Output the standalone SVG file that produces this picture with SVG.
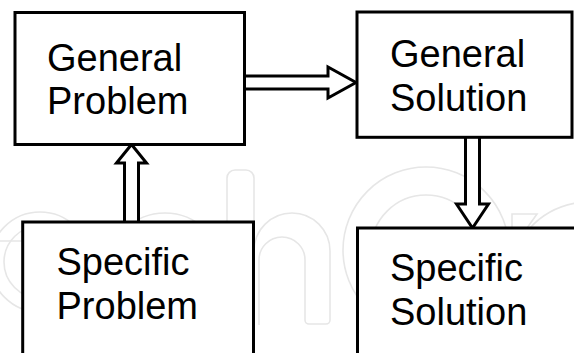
<svg xmlns="http://www.w3.org/2000/svg" width="574" height="353" viewBox="0 0 574 353">
<style>
.wm{fill:none;stroke:#e6e6e6;stroke-width:1.6}
.box{fill:#fff;stroke:#000;stroke-width:3}
.arr{fill:#fff;stroke:#000;stroke-width:3;stroke-linejoin:miter}
.t{font-family:"Liberation Sans",Arial,Helvetica,sans-serif;font-size:38px;fill:#000}
</style>
<rect width="574" height="353" fill="#fff"/>
<g id="watermark" class="wm">
<path d="M -10 241 H 78"/>
<circle cx="40" cy="262" r="50"/>
<circle cx="40" cy="262" r="36"/>
<circle cx="165" cy="270" r="57"/>
<path d="M 227 330 V 178 a 8 8 0 0 1 8 -8 h 11 a 8 8 0 0 1 8 8 V 251 A 38 38 0 0 1 330 251 V 320 a 4 4 0 0 1 -4 4 h -17 a 4 4 0 0 1 -4 -4 V 260 A 23 23 0 0 0 259 260 V 325"/>
<circle cx="426" cy="250" r="83"/>
<circle cx="426" cy="250" r="55"/>
<path d="M 512 228 V 214 H 537 L 527 228"/>
<path d="M 530 228 Q 548 208 576 203"/>
</g>
<g id="connectors">
<path class="arr" d="M 244.5 76 H 328 V 67 L 356 82.5 L 328 98 V 89 H 244.5"/>
<path class="arr" d="M 465.5 137 V 204 H 456.5 L 472.5 228 L 488.5 204 H 479.5 V 137"/>
<path class="arr" d="M 124.5 222 V 163 H 116.5 L 131.5 144.5 L 146.5 163 H 138.5 V 222"/>
</g>
<g id="general-problem">
<rect class="box" x="15" y="12.5" width="229.5" height="132"/>
<text class="t" x="47" y="71">General</text>
<text class="t" x="47" y="114">Problem</text>
</g>
<g id="general-solution">
<rect class="box" x="357" y="12" width="215" height="125.3"/>
<text class="t" x="390" y="67">General</text>
<text class="t" x="390" y="111">Solution</text>
</g>
<g id="specific-problem">
<rect class="box" x="22.7" y="222" width="230.8" height="145"/>
<text class="t" x="56.5" y="275">Specific</text>
<text class="t" x="56.5" y="319">Problem</text>
</g>
<g id="specific-solution">
<rect class="box" x="357.5" y="228" width="230" height="140"/>
<text class="t" x="390" y="281">Specific</text>
<text class="t" x="390" y="325">Solution</text>
</g>
</svg>
